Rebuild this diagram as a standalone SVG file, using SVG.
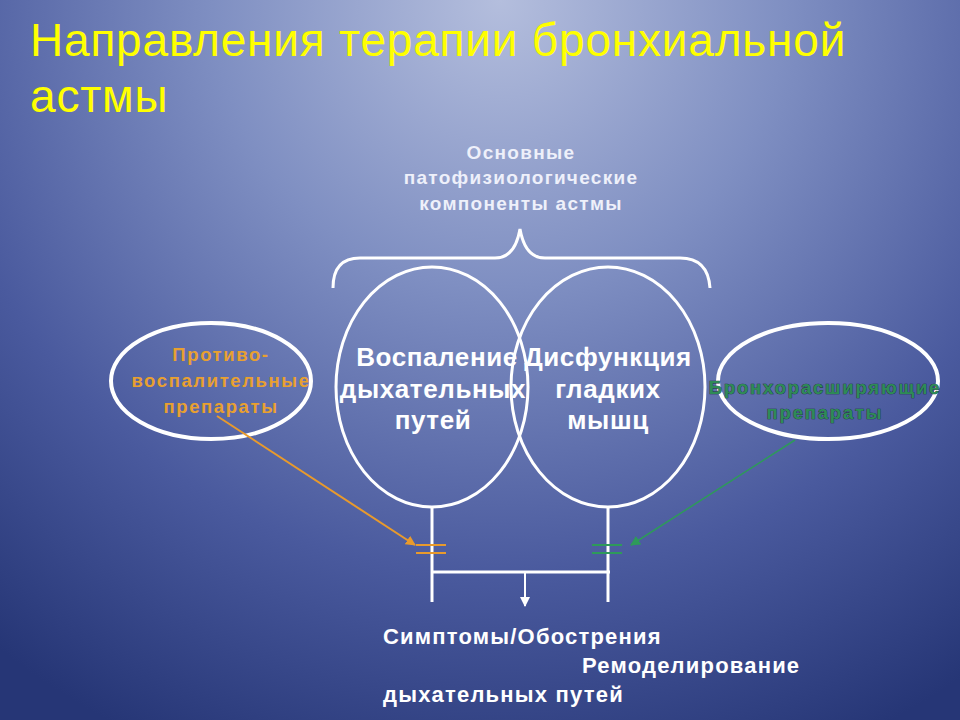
<svg xmlns="http://www.w3.org/2000/svg" width="960" height="720" viewBox="0 0 960 720">
<defs>
<radialGradient id="bg" cx="500" cy="0" r="820" gradientUnits="userSpaceOnUse">
<stop offset="0" stop-color="#b4bedd"/>
<stop offset="0.35" stop-color="#7f8fc2"/>
<stop offset="0.7" stop-color="#4a5a9e"/>
<stop offset="1" stop-color="#263676"/>
</radialGradient>
<marker id="aw" markerWidth="10" markerHeight="10" refX="9" refY="5" orient="auto" markerUnits="userSpaceOnUse"><path d="M0,0 L10,5 L0,10 z" fill="#ffffff"/></marker>
<marker id="ao" markerWidth="10" markerHeight="10" refX="9" refY="5" orient="auto" markerUnits="userSpaceOnUse"><path d="M0,0 L10,5 L0,10 z" fill="#e89a2c"/></marker>
<marker id="ag" markerWidth="10" markerHeight="10" refX="9" refY="5" orient="auto" markerUnits="userSpaceOnUse"><path d="M0,0 L10,5 L0,10 z" fill="#2e9a5a"/></marker>
</defs>
<style>
.t{font-family:"Liberation Sans",Arial,sans-serif}
.title{font-size:46px;fill:#ffff00;letter-spacing:0.8px}
.sub{font-size:19px;font-weight:bold;fill:#eef0fa;text-anchor:middle;letter-spacing:1.3px}
.big{font-size:26px;font-weight:bold;fill:#ffffff;text-anchor:middle;letter-spacing:0.6px}
.org{font-size:18.5px;font-weight:bold;fill:#e8a030;text-anchor:middle;letter-spacing:1.6px}
.grn{font-size:18.5px;font-weight:bold;fill:#2e8b57;text-anchor:middle;letter-spacing:1.8px;stroke:#1a3030;stroke-width:0.7;paint-order:stroke}
.bot{font-size:22px;font-weight:bold;fill:#ffffff;letter-spacing:1.2px}
.wl{stroke:#ffffff;stroke-width:3;fill:none}
</style>
<rect width="960" height="720" fill="url(#bg)"/>
<text class="t title" x="30" y="56">Направления терапии бронхиальной</text>
<text class="t title" x="30" y="112">астмы</text>
<g id="header">
<text class="t sub" x="521" y="159">Основные</text>
<text class="t sub" x="521" y="184">патофизиологические</text>
<text class="t sub" x="521" y="210">компоненты астмы</text>
</g>
<g id="brace">
<path class="wl" d="M333,288 Q333,258 360,258 L495,258 Q515,258 520,229 Q525,258 545,258 L680,258 Q708,258 710,288"/>
</g>
<g id="inflammation">
<ellipse class="wl" cx="432" cy="387" rx="96" ry="120"/>
<text class="t big" x="437" y="366">Воспаление</text>
<text class="t big" x="433" y="398">дыхательных</text>
<text class="t big" x="433" y="429">путей</text>
</g>
<g id="dysfunction">
<ellipse class="wl" cx="608" cy="387" rx="97" ry="120"/>
<text class="t big" x="608" y="366">Дисфункция</text>
<text class="t big" x="608" y="398">гладких</text>
<text class="t big" x="608" y="429">мышц</text>
</g>
<g id="antiinflammatory">
<ellipse cx="211" cy="381" rx="100" ry="58" fill="none" stroke="#ffffff" stroke-width="4"/>
<text class="t org" x="221" y="361">Противо-</text>
<text class="t org" x="221" y="387">воспалительные</text>
<text class="t org" x="221" y="413">препараты</text>
</g>
<g id="bronchodilators">
<ellipse cx="828" cy="381" rx="110" ry="58" fill="none" stroke="#ffffff" stroke-width="4"/>
<text class="t grn" x="825" y="394">Бронхорасширяющие</text>
<text class="t grn" x="825" y="419">препараты</text>
</g>
<g id="connectors">
<line class="wl" x1="432" y1="507" x2="432" y2="602"/>
<line class="wl" x1="608" y1="507" x2="608" y2="602"/>
<line class="wl" x1="433" y1="572" x2="610" y2="572"/>
<line x1="525" y1="572" x2="525" y2="606" stroke="#ffffff" stroke-width="2" marker-end="url(#aw)"/>
<line x1="416" y1="545" x2="446" y2="545" stroke="#e89a2c" stroke-width="2"/>
<line x1="416" y1="553" x2="446" y2="553" stroke="#e89a2c" stroke-width="2"/>
<line x1="217" y1="416" x2="415" y2="545" stroke="#e89a2c" stroke-width="2" marker-end="url(#ao)"/>
<line x1="592" y1="545" x2="622" y2="545" stroke="#2e9a5a" stroke-width="2"/>
<line x1="592" y1="553" x2="622" y2="553" stroke="#2e9a5a" stroke-width="2"/>
<line x1="795" y1="440" x2="631" y2="545" stroke="#2e9a5a" stroke-width="1.5" marker-end="url(#ag)"/>
</g>
<g id="outcomes">
<text class="t bot" x="383" y="644">Симптомы/Обострения</text>
<text class="t bot" x="582" y="673">Ремоделирование</text>
<text class="t bot" x="383" y="702">дыхательных путей</text>
</g>
</svg>
